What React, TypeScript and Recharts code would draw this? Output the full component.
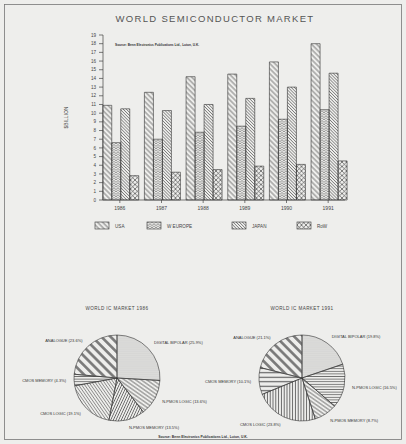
import React from 'react';
import { BarChart, Bar, XAxis, YAxis, PieChart, Pie, Cell } from 'recharts';

const years = ['1986', '1987', '1988', '1989', '1990', '1991'];
const usa = [10.9, 12.4, 14.2, 14.5, 15.9, 18.0];
const wEurope = [6.6, 7.0, 7.8, 8.5, 9.3, 10.4];
const japan = [10.5, 10.3, 11.0, 11.7, 13.0, 14.6];
const restOfWorld = [2.8, 3.2, 3.5, 3.9, 4.1, 4.5];
const yTicks = [0, 1, 2, 3, 4, 5, 6, 7, 8, 9, 10, 11, 12, 13, 14, 15, 16, 17, 18, 19];
const seriesNames = ['USA', 'W EUROPE', 'JAPAN', 'RoW'];

const icSegments = ['DIGITAL BIPOLAR', 'N-PMOS LOGIC', 'N-PMOS MEMORY', 'CMOS LOGIC', 'CMOS MEMORY', 'ANALOGUE'];
const ic1986 = [25.9, 13.6, 13.5, 19.1, 4.3, 23.6];
const ic1991 = [19.8, 16.5, 8.7, 23.8, 10.1, 21.1];

const barData = years.map((y, i) => ({
  year: y,
  usa: usa[i],
  we: wEurope[i],
  japan: japan[i],
  row: restOfWorld[i],
}));
const pie86 = icSegments.map((n, i) => ({ name: n, value: ic1986[i] }));
const pie91 = icSegments.map((n, i) => ({ name: n, value: ic1991[i] }));

const seriesKeys = ['usa', 'we', 'japan', 'row'];
const seriesFills = ['url(#pUSA)', 'url(#pWE)', 'url(#pJP)', 'url(#pROW)'];
const legendX = [95, 147, 232, 297];
const fills86 = ['url(#pDots)', 'url(#pDiagA)', 'url(#pSlashB)', 'url(#pDiagC)', 'url(#pHor)', 'url(#pWide)'];
const fills91 = ['url(#pDots)', 'url(#pHor)', 'url(#pDiagA)', 'url(#pVer)', 'url(#pHorWide)', 'url(#pWide)'];

const BG = '#eeeeec';
const INK = '#333';
const FONT = '"Liberation Sans", Arial, sans-serif';

const LinePat = ({ id, s, a, w, c = INK }: { id: string; s: number; a: number; w: number; c?: string }) => (
  <pattern id={id} patternUnits="userSpaceOnUse" width={s} height={s} patternTransform={`rotate(${a})`}>
    <line x1={s / 2} y1={-1} x2={s / 2} y2={s + 1} stroke={c} strokeWidth={w} />
  </pattern>
);

const Defs = () => (
  <svg width={0} height={0} style={{ position: 'absolute', left: 0, top: 0 }}>
    <defs>
      <LinePat id="pUSA" s={3.6} a={-45} w={0.6} />
      <pattern id="pWE" patternUnits="userSpaceOnUse" width={4} height={2.4}>
        <path d="M0,2.4 L2,0.4 L4,2.4" fill="none" stroke={INK} strokeWidth={0.5} />
      </pattern>
      <LinePat id="pJP" s={2.2} a={-45} w={0.45} />
      <pattern id="pROW" patternUnits="userSpaceOnUse" width={4.5} height={4.5}>
        <path d="M0,0 L4.5,4.5 M4.5,0 L0,4.5" stroke={INK} strokeWidth={0.6} />
      </pattern>
      <pattern id="pDots" patternUnits="userSpaceOnUse" width={1.9} height={1.9}>
        <circle cx={0.95} cy={0.95} r={0.45} fill="#555" />
      </pattern>
      <LinePat id="pDiagA" s={3.2} a={-55} w={0.6} />
      <LinePat id="pSlashB" s={2.4} a={25} w={0.6} />
      <LinePat id="pDiagC" s={2.5} a={-35} w={0.55} c="#555" />
      <LinePat id="pHor" s={2.6} a={90} w={0.6} />
      <LinePat id="pHorWide" s={4.5} a={90} w={1.1} c="#555" />
      <LinePat id="pVer" s={2.8} a={0} w={0.7} />
      <LinePat id="pWide" s={6.5} a={-45} w={2.6} c="#777" />
    </defs>
  </svg>
);

const RAD = Math.PI / 180;
const pieLabel = (p: any) => {
  const r = p.outerRadius + 8;
  const x = p.cx + r * Math.cos(-p.midAngle * RAD);
  const y = p.cy + r * Math.sin(-p.midAngle * RAD);
  return (
    <text
      x={x}
      y={y}
      textAnchor={x > p.cx ? 'start' : 'end'}
      dominantBaseline="central"
      fontSize={4}
      fill={INK}
      fontFamily={FONT}
    >
      {`${p.name} (${p.value}%)`}
    </text>
  );
};

export default function App() {
  return (
    <div style={{ position: 'absolute', left: 0, top: 0, width: 406, height: 444, background: BG, overflow: 'hidden' }}>
      <Defs />
      <svg width={406} height={444} style={{ position: 'absolute', left: 0, top: 0 }}>
        <rect x={4.5} y={4.5} width={397} height={435} fill="none" stroke="#777" strokeWidth={0.8} />
        <text x={215} y={22} textAnchor="middle" fontSize={9.5} letterSpacing={1.3} fill="#555" fontFamily={FONT}>
          WORLD SEMICONDUCTOR MARKET
        </text>
        {seriesNames.map((n, i) => (
          <g key={n}>
            <rect x={legendX[i]} y={222} width={14} height={7} fill={seriesFills[i]} stroke={INK} strokeWidth={0.6} />
            <text x={legendX[i] + 20} y={227.5} fontSize={4.6} fill="#444" fontFamily={FONT}>
              {n}
            </text>
          </g>
        ))}
        <text x={117} y={310} textAnchor="middle" fontSize={4.6} letterSpacing={0.4} fill="#444" fontFamily={FONT}>
          WORLD IC MARKET 1986
        </text>
        <text x={302} y={310} textAnchor="middle" fontSize={4.6} letterSpacing={0.4} fill="#444" fontFamily={FONT}>
          WORLD IC MARKET 1991
        </text>
        <text x={203} y={438} textAnchor="middle" fontSize={3.4} fontWeight="bold" fill="#333" fontFamily={FONT}>
          Source: Benn Electronics Publications Ltd., Luton, U.K.
        </text>
      </svg>
      <div style={{ position: 'absolute', left: 0, top: 0 }}>
        <BarChart
          width={406}
          height={240}
          data={barData}
          margin={{ top: 35, right: 61, left: 0, bottom: 0 }}
          barCategoryGap="9%"
          barGap={0}
        >
          <XAxis
            dataKey="year"
            height={40}
            tickSize={3}
            tickMargin={3}
            padding={{ left: -4, right: -4 }}
            stroke="#444"
            strokeWidth={0.7}
            tick={{ fontSize: 5, fill: '#444', fontFamily: FONT }}
          />
          <XAxis xAxisId="top" orientation="top" dataKey="year" height={0} tick={false} tickLine={false} stroke="#444" strokeWidth={0.7} />
          <YAxis
            width={103}
            domain={[0, 19]}
            ticks={yTicks}
            interval={0}
            tickSize={4}
            tickMargin={3}
            stroke="#444"
            strokeWidth={0.7}
            tick={{ fontSize: 4.6, fill: '#444', fontFamily: FONT }}
            label={{
              content: (props: any) => {
                const vb = props.viewBox || {};
                const cy = (vb.y || 35) + (vb.height || 165) / 2;
                return (
                  <text x={68} y={cy} transform={`rotate(-90 68 ${cy})`} textAnchor="middle" fontSize={5} fill="#444" fontFamily={FONT}>
                    $BILLION
                  </text>
                );
              },
            }}
          />
          <YAxis yAxisId="right" orientation="right" width={0} domain={[0, 19]} tick={false} tickLine={false} stroke="#444" strokeWidth={0.7} />
          {seriesKeys.map((k, i) => (
            <Bar key={k} dataKey={k} name={seriesNames[i]} fill={seriesFills[i]} stroke={INK} strokeWidth={0.6} isAnimationActive={false} />
          ))}
          <text x={115} y={46} fontSize={3.2} fontWeight="bold" fill="#333" fontFamily={FONT}>
            Source: Benn Electronics Publications Ltd., Luton, U.K.
          </text>
        </BarChart>
      </div>
      <div style={{ position: 'absolute', left: 0, top: 240 }}>
        <PieChart width={406} height={204} margin={{ top: 0, right: 0, bottom: 0, left: 0 }}>
          <Pie
            data={pie86}
            dataKey="value"
            nameKey="name"
            cx={117}
            cy={138}
            outerRadius={43}
            startAngle={90}
            endAngle={-270}
            stroke={INK}
            strokeWidth={0.6}
            label={pieLabel}
            labelLine={false}
            isAnimationActive={false}
          >
            {pie86.map((d, i) => (
              <Cell key={d.name} fill={fills86[i]} />
            ))}
          </Pie>
          <Pie
            data={pie91}
            dataKey="value"
            nameKey="name"
            cx={302}
            cy={138}
            outerRadius={43}
            startAngle={90}
            endAngle={-270}
            stroke={INK}
            strokeWidth={0.6}
            label={pieLabel}
            labelLine={false}
            isAnimationActive={false}
          >
            {pie91.map((d, i) => (
              <Cell key={d.name} fill={fills91[i]} />
            ))}
          </Pie>
        </PieChart>
      </div>
    </div>
  );
}
